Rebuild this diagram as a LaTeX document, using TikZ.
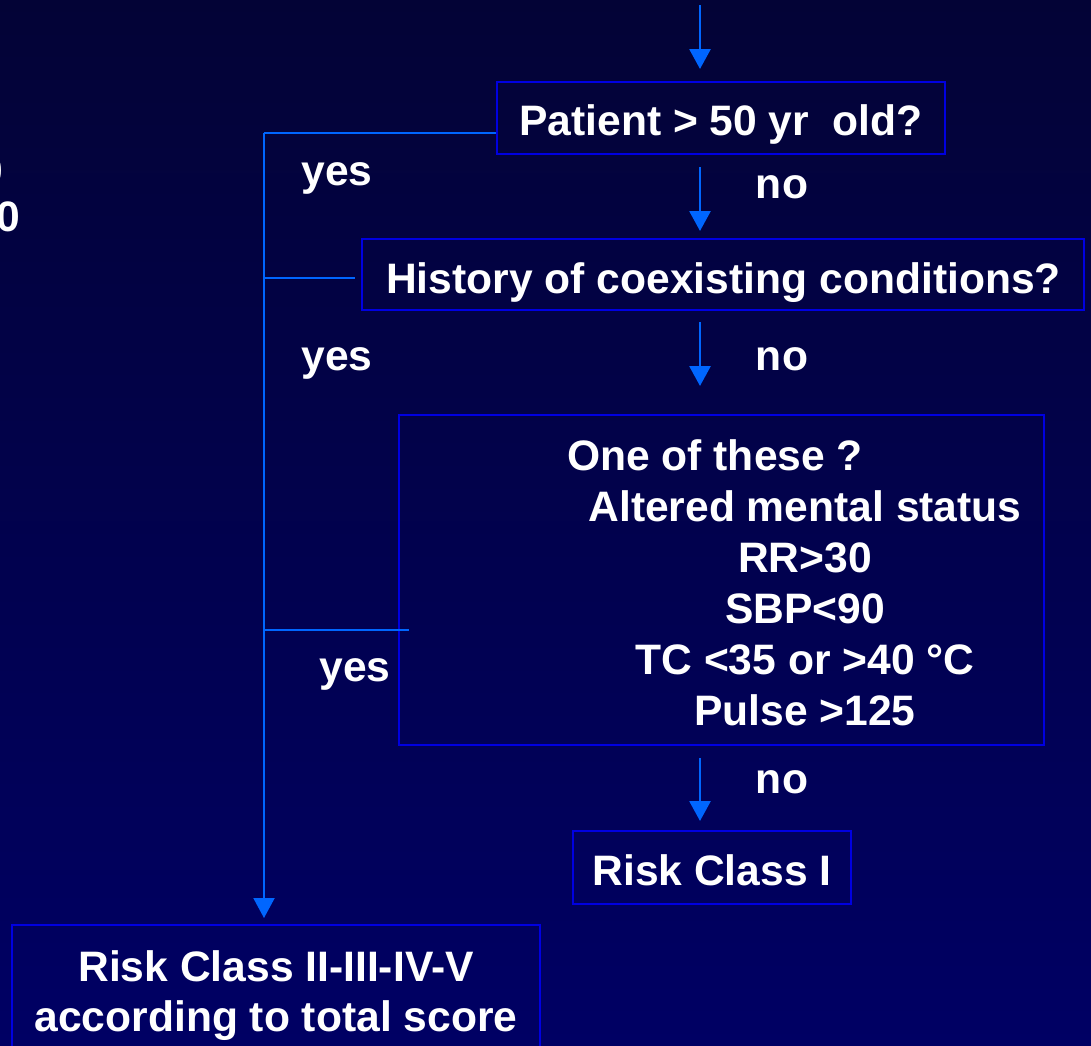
\documentclass[tikz,border=0pt]{standalone}
\usepackage{fontspec}
\setmainfont{Liberation Sans}
\usetikzlibrary{arrows.meta}
\definecolor{bgtop}{RGB}{3,3,54}
\definecolor{bgbot}{RGB}{0,0,100}
\definecolor{boxline}{RGB}{0,0,225}
\definecolor{arrowblue}{RGB}{0,102,255}
\tikzset{
  boxnode/.style={draw=boxline,line width=2pt,rectangle,inner sep=0pt},
  txt/.style={text=white,font=\fontsize{42.6}{50}\selectfont\bfseries,inner sep=0pt,anchor=base},
  conn/.style={draw=arrowblue,line width=2pt},
  arr/.style={draw=arrowblue,line width=2.8pt,-{Triangle[width=21pt,length=20pt]}},
}
\begin{document}
\begin{tikzpicture}[x=1pt,y=-1pt]
\shade[top color=bgtop,bottom color=bgbot] (0,0) rectangle (1091,1045);
\useasboundingbox (0,0) rectangle (1091,1045);
% cut-off text at left edge
\node[txt,anchor=base east] (z1) at (3,185) {0};
\node[txt,anchor=base east] (z2) at (20,231) {0};
% boxes
\node[boxnode,minimum width=448pt,minimum height=72pt] (b1) at (721,118) {};
\node[boxnode,minimum width=722pt,minimum height=71pt] (b2) at (723,274.5) {};
\node[boxnode,minimum width=645pt,minimum height=330pt] (b3) at (721.5,580) {};
\node[boxnode,minimum width=278pt,minimum height=73pt] (b4) at (712,867.5) {};
\node[boxnode,minimum width=528pt,minimum height=135pt] (b5) at (276,992.5) {};
% texts
\node[txt] (t1) at (721,135) {Patient > 50 yr\ \ old?};
\node[txt] (t2) at (723.5,293) {History of coexisting conditions?};
\node[txt] (t3a) at (715,470) {One of these ?};
\node[txt] (t3b) at (805,521) {Altered mental status};
\node[txt] (t3c) at (805,572) {RR>30};
\node[txt] (t3d) at (805,623) {SBP<90};
\node[txt] (t3e) at (805,674) {TC <35 or >40 °C};
\node[txt] (t3f) at (805,725) {Pulse >125};
\node[txt] (t4) at (712,885) {Risk Class I};
\node[txt] (t5a) at (276,981) {Risk Class II-III-IV-V};
\node[txt] (t5b) at (276,1031) {according to total score};
% yes / no labels
\node[txt] (y1) at (337,185) {yes};
\node[txt] (y2) at (337,370) {yes};
\node[txt] (y3) at (355,681) {yes};
\node[txt] (n1) at (782,198) {no};
\node[txt] (n2) at (782,370) {no};
\node[txt] (n3) at (782,793) {no};
% arrow coordinates
\coordinate (a0s) at (700,5);
\coordinate (a0e) at (700,69);
\coordinate (a1s) at (700,167);
\coordinate (a1e) at (700,231);
\coordinate (a2s) at (700,322);
\coordinate (a2e) at (700,386);
\coordinate (a3s) at (700,758);
\coordinate (a3e) at (700,821);
\draw[arr] (a0s) -- (a0e);
\draw[arr] (a1s) -- (a1e);
\draw[arr] (a2s) -- (a2e);
\draw[arr] (a3s) -- (a3e);
% left connectors
\coordinate (j1) at (264,133);
\coordinate (j2) at (264,278);
\coordinate (j2e) at (355,278);
\coordinate (j3) at (264,630);
\coordinate (j3e) at (409,630);
\coordinate (j5) at (264,918);
\draw[conn] (j1 -| b1.west) -- (j1);
\draw[conn] (j2) -- (j2e);
\draw[conn] (j3) -- (j3e);
\draw[conn,-{Triangle[width=21pt,length=20pt]}] (j1) -- (j5);
\end{tikzpicture}
\end{document}
